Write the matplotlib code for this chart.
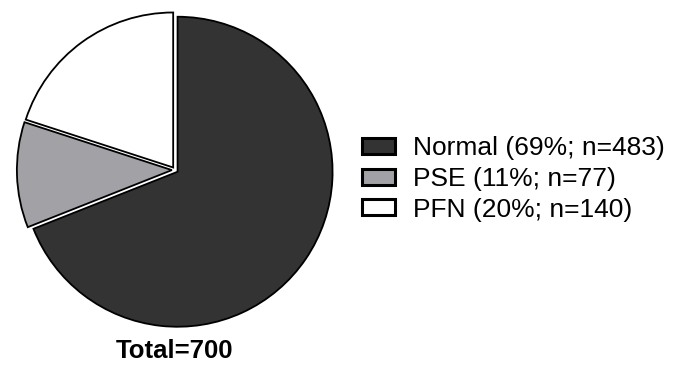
import matplotlib
matplotlib.use("Agg")
import matplotlib.pyplot as plt

categories = ["Normal", "PSE", "PFN"]
counts = [483, 77, 140]
colors = ["#333333", "#a2a2a6", "#ffffff"]

total = sum(counts)
labels = [f"{c} ({round(n / total * 100)}%; n={n})" for c, n in zip(categories, counts)]

plt.rcParams["font.family"] = ["Liberation Sans", "DejaVu Sans"]

W, H = 674, 365
fig = plt.figure(figsize=(W / 100, H / 100), dpi=100)
ax = fig.add_axes([0, 0, 1, 1])

R = 155
wedges, _ = ax.pie(counts, colors=colors, startangle=90, counterclock=False,
                   center=(175, H - 170), radius=R,
                   explode=[0.02 * R] * len(counts),
                   wedgeprops=dict(edgecolor="black", linewidth=1.3))
ax.set_xlim(0, W)
ax.set_ylim(0, H)
ax.set_aspect("equal")
ax.axis("off")

ax.text(175, H - 351, f"Total={total}", ha="center", va="center",
        fontsize=18.5, fontweight="bold")

leg = ax.legend(wedges, labels, loc="center left", bbox_to_anchor=(362, H - 179),
                bbox_transform=ax.transData, frameon=False, fontsize=19,
                handlelength=1.25, handleheight=0.57, handletextpad=0.68,
                labelspacing=0.25, borderpad=0, borderaxespad=0)
for h in leg.legend_handles:
    h.set_linewidth(2.2)

fig.savefig("out.png", dpi=100)
